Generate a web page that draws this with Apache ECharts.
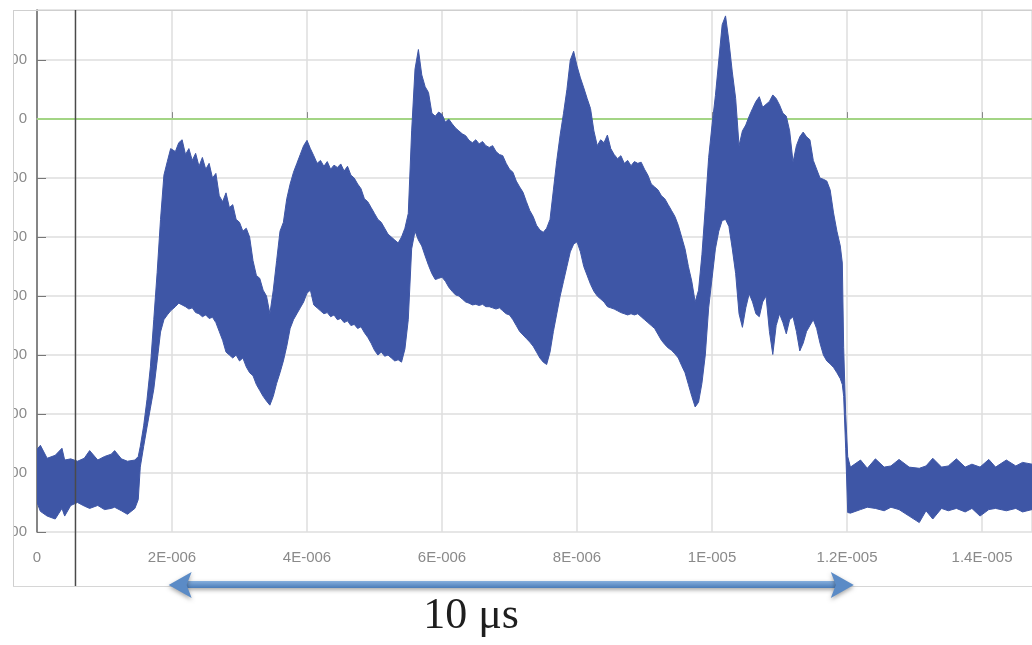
<!DOCTYPE html>
<html>
<head>
<meta charset="utf-8">
<script src="https://cdn.jsdelivr.net/npm/echarts/dist/echarts.min.js"></script>
<style>
  html, body { margin: 0; padding: 0; background: #fff; }
  #scopeChart { width: 1032px; height: 645px; }
</style>
</head>
<body>
<div id="scopeChart"></div>
<script>
// time axis in microseconds (labels show seconds)
const timeUs = [
  0, 0.05, 0.15, 0.27, 0.37, 0.41, 0.5, 0.6, 0.7, 0.78,
  0.9, 1.0, 1.1, 1.15, 1.25, 1.34, 1.45, 1.5, 1.53, 1.58,
  1.63, 1.68, 1.73, 1.78, 1.83, 1.88, 1.93, 1.98,
  2.05, 2.10, 2.15, 2.20, 2.25, 2.30, 2.35, 2.40, 2.45, 2.50, 2.55, 2.60, 2.65, 2.70, 2.75, 2.80, 2.85, 2.90, 2.95,
  3.00, 3.05, 3.10, 3.15, 3.20, 3.25, 3.30, 3.35, 3.40, 3.45, 3.50, 3.55, 3.60, 3.65, 3.70, 3.75, 3.80, 3.85, 3.90, 3.95,
  4.00, 4.05, 4.10, 4.15, 4.20, 4.25, 4.30, 4.35, 4.40, 4.45, 4.50, 4.55, 4.60, 4.65, 4.70, 4.75, 4.80, 4.85, 4.90, 4.95,
  5.00, 5.05, 5.10, 5.15, 5.20, 5.25, 5.30, 5.35, 5.40, 5.45, 5.50, 5.55, 5.60, 5.65, 5.70, 5.75, 5.80, 5.85, 5.90, 5.95,
  6.00, 6.05, 6.10, 6.15, 6.20, 6.25, 6.30, 6.35, 6.40, 6.45, 6.50, 6.55, 6.60, 6.65, 6.70, 6.75, 6.80, 6.85, 6.90, 6.95,
  7.00, 7.05, 7.10, 7.15, 7.20, 7.25, 7.30, 7.35, 7.40, 7.45, 7.50, 7.55, 7.60, 7.65, 7.70, 7.75, 7.80, 7.85, 7.90, 7.95,
  8.00, 8.05, 8.10, 8.15, 8.20, 8.25, 8.30, 8.35, 8.40, 8.45, 8.50, 8.55, 8.60, 8.65, 8.70, 8.75, 8.80, 8.85, 8.90, 8.95,
  9.00, 9.05, 9.10, 9.15, 9.20, 9.25, 9.30, 9.35, 9.40, 9.45, 9.50, 9.55, 9.60, 9.65, 9.70, 9.75, 9.80, 9.85, 9.90, 9.95,
  10.00, 10.05, 10.10, 10.15, 10.20, 10.25, 10.30, 10.35, 10.40, 10.45, 10.50, 10.55, 10.60, 10.65, 10.70, 10.75, 10.80, 10.85, 10.90, 10.95,
  11.00, 11.05, 11.10, 11.15, 11.20, 11.25, 11.30, 11.35, 11.40, 11.45, 11.50, 11.55, 11.60, 11.65, 11.70, 11.75, 11.80, 11.85,
  11.90, 11.93, 11.95, 11.98, 12.01, 12.05, 12.2, 12.3, 12.42, 12.55, 12.65, 12.77, 12.92, 13.07,
  13.17, 13.27, 13.4, 13.5, 13.62, 13.75, 13.85, 13.97, 14.1, 14.2, 14.36, 14.5, 14.6, 14.74
];

// top edge of the noisy trace
const upperEnv = [
  -560, -553, -575, -570, -558, -578, -576, -580, -575, -562,
  -578, -572, -568, -562, -576, -580, -578, -572, -555, -520,
  -475, -420, -340, -260, -170, -95, -72, -50,
  -55, -40, -35, -60, -50, -70, -58, -80, -65, -85, -75, -100, -92, -130, -140, -125, -150, -145, -170,
  -175, -190, -185, -200, -240, -265, -270, -290, -300, -330, -290, -240, -190, -175, -135, -110, -90, -75, -60, -45,
  -36, -50, -62, -75, -70, -80, -72, -85, -78, -82, -76, -88, -80, -95, -100, -110, -118, -135, -140, -150,
  -160, -170, -175, -185, -195, -200, -205, -210, -200, -185, -160, -20, 85, 118, 75, 55, 45, 10, 5, 12,
  8, -5, 0, -8, -15, -20, -25, -28, -36, -40, -35, -42, -38, -45, -48, -45, -55, -60, -62, -75,
  -85, -90, -105, -115, -124, -140, -155, -165, -180, -188, -192, -185, -170, -120, -70, -27, 10, 50, 100, 115,
  90, 70, 53, 35, 18, -20, -45, -35, -40, -27, -50, -60, -67, -62, -75, -70, -79, -72, -75, -73,
  -85, -95, -110, -115, -120, -130, -135, -145, -155, -165, -180, -200, -220, -250, -275, -310, -290, -230, -150, -65,
  -10, 40, 100, 160, 175, 132, 80, 35, -45, -20, -10, 5, 18, 30, 38, 20, 25, 30, 41, 35,
  24, 10, 5, -20, -73, -45, -30, -22, -30, -35, -70, -85, -100, -102, -105, -120, -159, -190,
  -215, -244, -387, -501, -572, -590, -578, -592, -576, -590, -588, -577, -590, -592,
  -588, -575, -590, -588, -576, -590, -585, -590, -577, -590, -578, -588, -582, -585
];

// bottom edge of the noisy trace
const lowerEnv = [
  -650, -665, -673, -678, -660, -673, -655, -650, -656, -660,
  -655, -662, -660, -658, -664, -670, -660, -645, -590, -555,
  -522, -490, -458, -410, -361, -340, -332, -325,
  -318, -312, -315, -318, -322, -320, -328, -330, -335, -332, -338, -336, -345, -360, -375, -395, -400, -405, -400,
  -410, -405, -420, -430, -435, -450, -460, -470, -478, -485, -470, -448, -430, -410, -385, -355, -340, -330, -320, -310,
  -295, -290, -315, -320, -325, -330, -328, -335, -332, -340, -338, -345, -342, -350, -348, -355, -352, -362, -370, -380,
  -392, -400, -395, -402, -400, -405, -410, -408, -412, -390, -340, -220, -190, -205, -215, -232, -248, -262, -272, -270,
  -268, -275, -285, -292, -298, -300, -305, -310, -312, -315, -314, -316, -314, -318, -318, -320, -322, -320, -325, -330,
  -332, -340, -350, -360, -366, -372, -378, -385, -395, -405, -412, -416, -395, -360, -330, -300, -275, -250, -225, -212,
  -208, -225, -250, -265, -280, -292, -300, -305, -310, -318, -320, -322, -325, -328, -330, -332, -330, -332, -330, -335,
  -340, -345, -350, -355, -365, -375, -382, -388, -392, -398, -405, -418, -430, -450, -470, -488, -480, -448, -400, -320,
  -270, -220, -190, -172, -170, -182, -220, -262, -330, -353, -320, -296, -310, -330, -335, -310, -300, -360, -399, -350,
  -330, -345, -364, -340, -335, -360, -393, -380, -360, -350, -340, -355, -380, -400, -410, -415, -421, -430,
  -440, -450, -470, -559, -667, -668, -662, -658, -660, -664, -658, -662, -673, -684,
  -664, -678, -660, -664, -660, -666, -660, -673, -662, -660, -664, -660, -666, -662
];

const xTickLabels = ['0', '2E-006', '4E-006', '6E-006', '8E-006', '1E-005', '1.2E-005', '1.4E-005'];
const yTickLabels = ['-700', '-600', '-500', '-400', '-300', '-200', '-100', '0', '100'];

const thresholdLevel = 0;   // green reference line
const cursorUs = 0.57;      // dark vertical cursor
const spanUs = [1.95, 12.1]; // double arrow
const spanText = '10 μs';

const traceColor = '#3e56a6';
const xMax = 14.74;

const chart = echarts.init(document.getElementById('scopeChart'));

const traceRows = timeUs.map((t, i) => [t, upperEnv[i], lowerEnv[i]]);

// whole envelope drawn as one filled polygon
function renderTrace(params, api) {
  if (params.dataIndex !== 0) return null;
  const top = traceRows.map(r => api.coord([r[0], r[1]]));
  const bottom = traceRows.map(r => api.coord([r[0], r[2]])).reverse();
  return {
    type: 'polygon',
    shape: { points: top.concat(bottom) },
    style: { fill: traceColor, stroke: traceColor, lineWidth: 1 }
  };
}

const option = {
  animation: false,
  grid: { left: 37, right: 0, top: 10, bottom: 113, outerBoundsMode: 'none', containLabel: false },
  xAxis: {
    type: 'value',
    min: 0,
    max: xMax,
    interval: 2,
    offset: 5,
    axisLine: { lineStyle: { color: '#a8a8a8', width: 2 } },
    axisTick: { inside: true, length: 7, lineStyle: { color: '#888' } },
    axisLabel: {
      color: '#8a8a8a',
      fontSize: 15,
      fontFamily: 'Liberation Sans',
      margin: 13,
      showMaxLabel: false,
      formatter: v => xTickLabels[Math.round(v / 2)] ?? ''
    },
    splitLine: { lineStyle: { color: '#dedede', width: 1.5 } }
  },
  yAxis: {
    type: 'value',
    min: -700,
    max: 185,
    interval: 100,
    axisLine: { show: true, lineStyle: { color: '#666', width: 1.5 } },
    axisTick: { show: true, inside: true, length: 9, lineStyle: { color: '#777' } },
    axisLabel: {
      color: '#8a8a8a',
      fontSize: 15,
      fontFamily: 'Liberation Sans',
      margin: 10,
      showMaxLabel: false,
      formatter: v => yTickLabels[Math.round((v + 700) / 100)] ?? ''
    },
    splitLine: { lineStyle: { color: '#dedede', width: 1.5 } }
  },
  series: [
    {
      name: 'threshold',
      type: 'line',
      data: [[0, thresholdLevel], [xMax, thresholdLevel]],
      symbol: 'none',
      lineStyle: { color: '#a3d585', width: 2 },
      silent: true,
      z: 1
    },
    {
      name: 'trace',
      type: 'custom',
      data: traceRows,
      encode: { x: 0, y: [1, 2] },
      renderItem: renderTrace,
      clip: true,
      silent: true,
      z: 3
    }
  ]
};

chart.setOption(option);

// annotations placed from data coordinates
const cursorX = chart.convertToPixel({ gridIndex: 0 }, [cursorUs, 0])[0];
const ax0 = chart.convertToPixel({ gridIndex: 0 }, [spanUs[0], 0])[0];
const ax1 = chart.convertToPixel({ gridIndex: 0 }, [spanUs[1], 0])[0];
const ay = 585;
const arrowFill = new echarts.graphic.LinearGradient(0, 0, 0, 1, [
  { offset: 0, color: '#86afdd' },
  { offset: 1, color: '#4a7bb8' }
]);
const arrowShadow = { shadowBlur: 4, shadowOffsetY: 2, shadowColor: 'rgba(0,0,0,0.35)' };

chart.setOption({
  graphic: [
    { type: 'rect', z: 100, shape: { x: 0, y: 0, width: 13, height: 645 }, style: { fill: '#fff' } },
    { type: 'line', z: 101, shape: { x1: 13.5, y1: 10, x2: 13.5, y2: 586 }, style: { stroke: '#cfcfcf', lineWidth: 1 } },
    { type: 'line', z: 101, shape: { x1: 13, y1: 10.5, x2: 1032, y2: 10.5 }, style: { stroke: '#cfcfcf', lineWidth: 1 } },
    { type: 'line', z: 101, shape: { x1: 13, y1: 586.5, x2: 1032, y2: 586.5 }, style: { stroke: '#d6d6d6', lineWidth: 1 } },
    { type: 'line', z: 101, shape: { x1: cursorX, y1: 10, x2: cursorX, y2: 586 }, style: { stroke: '#4a4a4a', lineWidth: 1.5 } },
    {
      type: 'rect', z: 102,
      shape: { x: ax0 + 16, y: ay - 4, width: ax1 - ax0 - 32, height: 7 },
      style: Object.assign({ fill: arrowFill }, arrowShadow)
    },
    {
      type: 'polygon', z: 102,
      shape: { points: [[ax0, ay], [ax0 + 23, ay - 13], [ax0 + 18, ay], [ax0 + 23, ay + 13]] },
      style: Object.assign({ fill: '#5b8bc6' }, arrowShadow)
    },
    {
      type: 'polygon', z: 102,
      shape: { points: [[ax1, ay], [ax1 - 23, ay - 13], [ax1 - 18, ay], [ax1 - 23, ay + 13]] },
      style: Object.assign({ fill: '#5b8bc6' }, arrowShadow)
    },
    {
      type: 'text', z: 102,
      style: {
        text: spanText,
        x: 471, y: 616,
        textAlign: 'center', textVerticalAlign: 'middle',
        fontSize: 44, fontFamily: 'Liberation Serif', fill: '#1e1e1e'
      }
    }
  ]
});
</script>
</body>
</html>
